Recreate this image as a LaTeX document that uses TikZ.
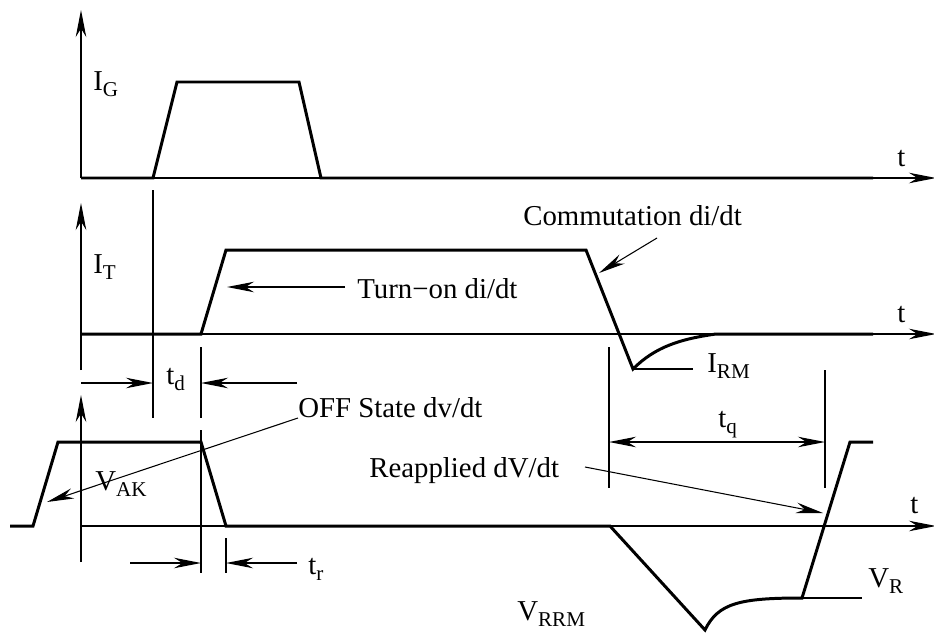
\documentclass[tikz,border=0pt]{standalone}
\usepackage{fontspec}
\setmainfont{Liberation Serif}
\usetikzlibrary{arrows.meta,positioning}
\newcommand{\sbs}[1]{\raisebox{-3.6pt}{\fontsize{12}{12}\selectfont #1}}

\begin{document}
\begin{tikzpicture}[x=0.02cm,y=-0.02cm,
>={Stealth[length=5.4mm,width=2.1mm,inset=1.7mm]},
font=\fontsize{16.4}{19}\selectfont]
\tikzstyle{wave}=[line width=1.7pt,line join=miter]
\tikzstyle{guide}=[line width=0.6pt]
\tikzstyle{lbl}=[inner sep=0pt,anchor=base west]
\useasboundingbox (0,0) rectangle (934,633);

% origins of the three traces
\coordinate (o1) at (81,178);
\coordinate (o2) at (81,334);
\coordinate (o3) at (81,526);

% axes
\draw[guide,->] (o1) -- (81,10);
\draw[guide,->] (o1) -- (936,178);
\draw[guide,->] (81,370) -- (81,203);
\draw[guide,->] (o2) -- (936,334);
\draw[guide,->] (81,562) -- (81,395);
\draw[guide,->] (o3) -- (936,526);

% gate current
\draw[wave] (o1) -- (153,178) -- (177,82) -- (299,82) -- (321,178) -- (873,178);
% anode current
\coordinate (irm) at (633,369);
\draw[wave] (o2) -- (201,334) -- (226,250) -- (586,250) -- (irm)
  .. controls (655,347) and (680,339) .. (716,334) -- (873,334);
% anode voltage
\coordinate (vr) at (802,598);
\draw[wave] (10,526) -- (33,526) -- (58,442) -- (201,442) -- (226,526)
  -- (610,526) -- (705,630) .. controls (718,603) and (740,598) .. (vr)
  -- (850,442) -- (873,442);

% labels
\node[lbl] (ig) at (93,90) {I\sbs{G}};
\node[lbl] (it) at (93,273) {I\sbs{T}};
\node[lbl] (vak) at (95,490) {V\sbs{AK}};
\node[lbl] (t1) at (897,166) {t};
\node[lbl] (t2) at (897,322) {t};
\node[lbl] (t3) at (910,513) {t};
\node[lbl] (turnon) at (357,298) {Turn−on di/dt};
\node[lbl] (commut) at (523,225) {Commutation di/dt};
\node[lbl] (irmlbl) at (707,372) {I\sbs{RM}};
\node[lbl] (td) at (166,384) {t\sbs{d}};
\node[lbl] (offst) at (298,417) {OFF State dv/dt};
\node[lbl] (tq) at (718,427) {t\sbs{q}};
\node[lbl] (reapp) at (369,477) {Reapplied dV/dt};
\node[lbl] (tr) at (308,574) {t\sbs{r}};
\node[lbl] (vrlbl) at (868,587) {V\sbs{R}};
\node[lbl] (vrrm) at (517,620) {V\sbs{RRM}};

% pointers
\coordinate (ona) at (345,287);
\coordinate (onb) at (227,287);
\coordinate (coa) at (657,238);
\coordinate (cob) at (599,273);
\coordinate (ofa) at (298,418);
\coordinate (ofb) at (47,502);
\coordinate (rea) at (585,467);
\coordinate (reb) at (823,513);
\draw[guide,->] (ona) -- (onb);
\draw[guide,->] (coa) -- (cob);
\draw[guide,->] (ofa) -- (ofb);
\draw[guide,->] (rea) -- (reb);
\draw[guide] (irm) -- (693,369);
\draw[guide] (vr) -- (862,598);

% timing marks
\draw[guide] (153,190) -- (153,418);
\draw[guide] (201,347) -- (201,418);
\draw[guide] (201,430) -- (201,573);
\draw[guide] (226,538) -- (226,573);
\draw[guide] (609,347) -- (609,488);
\draw[guide] (825,370) -- (825,488);
\draw[guide,->] (81,383) -- (153,383);
\draw[guide,->] (297,383) -- (201,383);
\draw[guide,->] (130,563) -- (201,563);
\draw[guide,->] (297,563) -- (226,563);
\draw[guide,<->] (609,442) -- (825,442);

\end{tikzpicture}
\end{document}
